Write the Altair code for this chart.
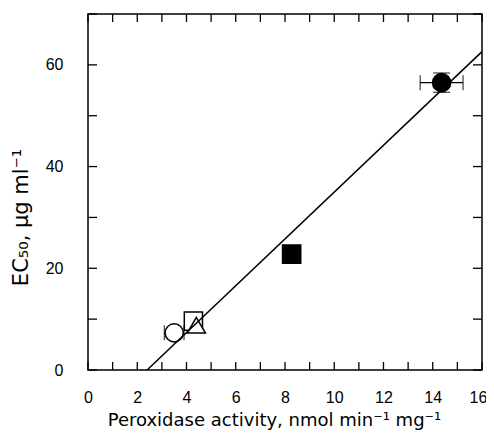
import altair as alt
import pandas as pd

# data
px = [3.5, 4.28, 4.4, 8.27, 14.36]
py = [7.3, 9.6, 8.8, 22.8, 56.5]
pxerr = [0.4, 0.35, 0.1, 0.0, 0.87]
pyerr = [0.0, 0.0, 0.0, 0.0, 1.9]
pshape = ["circle", "square", "triangle-up", "square", "circle"]
pfill = ["white", "white", "white", "black", "black"]

fit_x = [2.4, 16.0]
fit_y = [0.0, 62.6]

x_ticks = list(range(0, 17))
y_ticks = list(range(0, 71, 10))
x_labels = list(range(0, 17, 2))
y_labels = [0, 20, 40, 60]

FONT = "Liberation Sans"
TFONT = "DejaVu Sans"
W, H = 394, 356

pts = pd.DataFrame({"x": px, "y": py, "xe": pxerr, "ye": pyerr,
                    "shape": pshape, "fill": pfill})
pts["xlo"] = pts.x - pts.xe
pts["xhi"] = pts.x + pts.xe
pts["ylo"] = pts.y - pts.ye
pts["yhi"] = pts.y + pts.ye
xb = pts[pts.xe > 0]
yb = pts[pts.ye > 0]

xs = alt.Scale(domain=[0, 16], nice=False, zero=False)
ys = alt.Scale(domain=[0, 70], nice=False, zero=False)

xaxis = alt.Axis(values=x_labels, ticks=False, domain=False, grid=False,
                 labelPadding=19, labelFontSize=16, labelFont=FONT,
                 labelColor="black",
                 labelOffset={"condition": {"test": "datum.value == 16", "value": -4}, "value": 0},
                 title="Peroxidase activity, nmol min⁻¹ mg⁻¹",
                 titleFont=TFONT, titleFontSize=18, titleFontWeight="normal",
                 titleColor="black", titleX=186, titleY=55, titleBaseline="alphabetic",
                 labelFlush=False)
yaxis = alt.Axis(values=y_labels, ticks=False, domain=False, grid=False,
                 labelPadding=25, labelFontSize=16, labelFont=FONT,
                 labelColor="black", title="EC₅₀, µg ml⁻¹",
                 titleFont=TFONT, titleFontSize=21, titleFontWeight="normal",
                 titleColor="black", titleX=-67, titleY=203, titleBaseline="middle",
                 labelFlush=False)

base = alt.Chart(pts)

# axes carrier (invisible)
axes = base.mark_point(opacity=0).encode(
    x=alt.X("x:Q", scale=xs, axis=xaxis),
    y=alt.Y("y:Q", scale=ys, axis=yaxis),
)

tx = pd.DataFrame({"v": x_ticks})
ty = pd.DataFrame({"v": y_ticks})
tick_b = alt.Chart(tx).mark_rule(color="black", strokeWidth=1.3).encode(
    x=alt.X("v:Q", scale=xs), y=alt.value(H), y2=alt.value(H - 8))
tick_t = alt.Chart(tx).mark_rule(color="black", strokeWidth=1.3).encode(
    x=alt.X("v:Q", scale=xs), y=alt.value(0), y2=alt.value(8))
tick_l = alt.Chart(ty).mark_rule(color="black", strokeWidth=1.3).encode(
    y=alt.Y("v:Q", scale=ys), x=alt.value(0), x2=alt.value(9))
tick_r = alt.Chart(ty).mark_rule(color="black", strokeWidth=1.3).encode(
    y=alt.Y("v:Q", scale=ys), x=alt.value(W), x2=alt.value(W - 9))

xbar = alt.Chart(xb).mark_rule(color="black", strokeWidth=1.3).encode(
    x=alt.X("xlo:Q", scale=xs), x2="xhi:Q", y=alt.Y("y:Q", scale=ys))
xcap_lo = alt.Chart(xb).mark_tick(color="black", orient="vertical", size=15, thickness=1.3).encode(
    x=alt.X("xlo:Q", scale=xs), y=alt.Y("y:Q", scale=ys))
xcap_hi = alt.Chart(xb).mark_tick(color="black", orient="vertical", size=15, thickness=1.3).encode(
    x=alt.X("xhi:Q", scale=xs), y=alt.Y("y:Q", scale=ys))
ybar = alt.Chart(yb).mark_rule(color="black", strokeWidth=1.3).encode(
    y=alt.Y("ylo:Q", scale=ys), y2="yhi:Q", x=alt.X("x:Q", scale=xs))
ycap_lo = alt.Chart(yb).mark_tick(color="black", orient="horizontal", size=17, thickness=1.3).encode(
    y=alt.Y("ylo:Q", scale=ys), x=alt.X("x:Q", scale=xs))
ycap_hi = alt.Chart(yb).mark_tick(color="black", orient="horizontal", size=17, thickness=1.3).encode(
    y=alt.Y("yhi:Q", scale=ys), x=alt.X("x:Q", scale=xs))

markers = base.mark_point(filled=False, strokeWidth=1.5, opacity=1, stroke="black", size=330).encode(
    x=alt.X("x:Q", scale=xs),
    y=alt.Y("y:Q", scale=ys),
    shape=alt.Shape("shape:N", scale=None),
    fill=alt.Fill("fill:N", scale=None),
)

line = alt.Chart(pd.DataFrame({"x": fit_x, "y": fit_y})).mark_line(
    color="black", strokeWidth=1.5).encode(
    x=alt.X("x:Q", scale=xs), y=alt.Y("y:Q", scale=ys))

chart = alt.layer(axes, tick_b, tick_t, tick_l, tick_r,
                  xbar, xcap_lo, xcap_hi, ybar, ycap_lo, ycap_hi,
                  markers, line).properties(
    width=W, height=H,
    autosize=alt.AutoSizeParams(type="none"),
    padding={"left": 80, "top": 6, "right": 4, "bottom": 69},
    background="white",
).configure_view(stroke="black", strokeWidth=1.5)

chart.save("out.html", embed_options={"renderer": "svg", "actions": False})
